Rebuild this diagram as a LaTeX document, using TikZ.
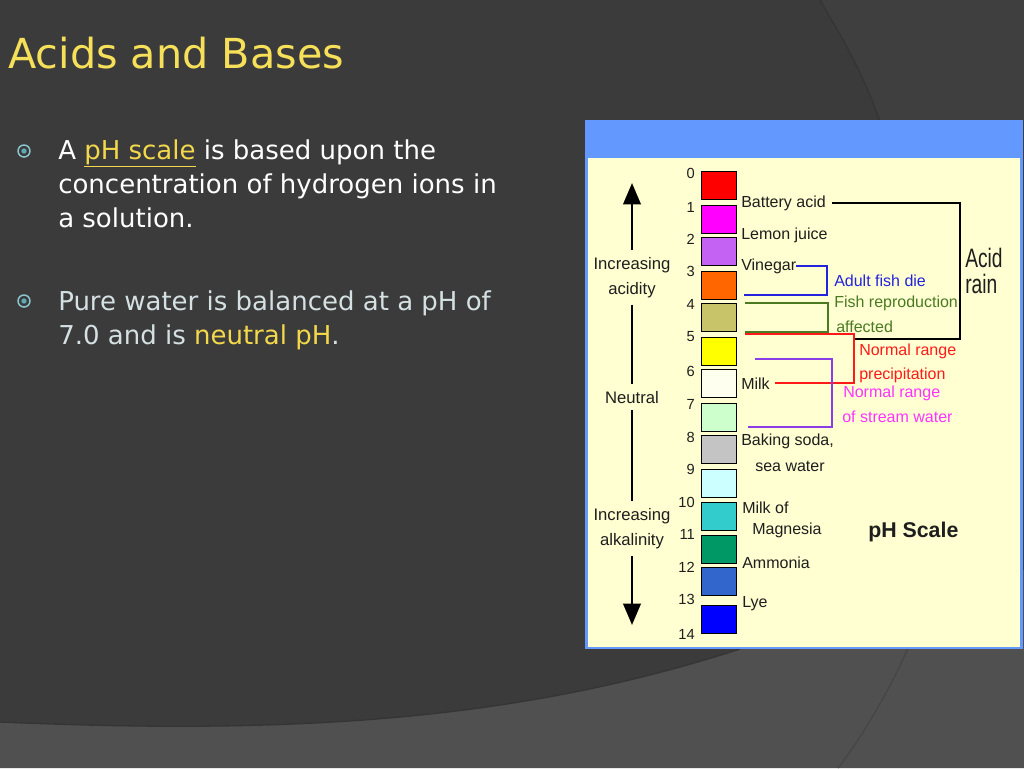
\documentclass[tikz,border=0pt]{standalone}
\usepackage{fontspec}
\usepackage{graphicx}
\setmainfont{DejaVu Sans}
\newfontfamily\chartfont{Liberation Sans}
\newfontfamily\acidfont[FakeStretch=0.72]{Liberation Sans}
\usetikzlibrary{arrows.meta}
\definecolor{slidebg}{HTML}{3B3B3B}
\definecolor{slidetop}{HTML}{3F3F3F}
\definecolor{slidebot}{HTML}{505050}
\definecolor{slideedge}{HTML}{353535}
\definecolor{titleyellow}{HTML}{F6E05A}
\definecolor{keyyellow}{HTML}{F3D84B}
\definecolor{itemgray}{HTML}{D5E0E3}
\definecolor{ringblue}{HTML}{8CC6CF}
\definecolor{dotblue}{HTML}{5FA8B4}
\definecolor{hdrblue}{HTML}{6399FF}
\definecolor{cream}{HTML}{FFFFD2}
\definecolor{ph0}{HTML}{FF0000}
\definecolor{ph1}{HTML}{FF00FF}
\definecolor{ph2}{HTML}{C462F4}
\definecolor{ph3}{HTML}{FF6600}
\definecolor{ph4}{HTML}{C8C46A}
\definecolor{ph5}{HTML}{FFFF00}
\definecolor{ph6}{HTML}{FFFFF0}
\definecolor{ph7}{HTML}{CCFFCC}
\definecolor{ph8}{HTML}{C4C4C4}
\definecolor{ph9}{HTML}{CCFFFF}
\definecolor{ph10}{HTML}{33CCCC}
\definecolor{ph11}{HTML}{009966}
\definecolor{ph12}{HTML}{3366CC}
\definecolor{ph13}{HTML}{0000FF}
\definecolor{fishblue}{HTML}{2323DD}
\definecolor{fishgreen}{HTML}{4A7A22}
\definecolor{rainred}{HTML}{FF1A1A}
\definecolor{streampink}{HTML}{FF33FF}
\definecolor{streamviolet}{HTML}{8A3DE6}
\definecolor{inkgray}{HTML}{1E1E1E}
\tikzset{
	swatch/.style = {draw = black, line width = 1.1pt, minimum width = 26.25pt, minimum height = 21pt, inner sep = 0pt, anchor = north west},
	phnum/.style = {anchor = east, inner sep = 0pt, text = inkgray, font = \chartfont\fontsize{11}{13}\selectfont},
	item/.style = {anchor = base west, inner sep = 0pt, text = inkgray, font = \chartfont\fontsize{12}{14}\selectfont},
	side/.style = {anchor = north, inner sep = 5pt, align = center, text = inkgray, font = \chartfont\fontsize{12.5}{19}\selectfont},
	bracket/.style = {line width = 1.1pt},
	shaft/.style = {line width = 2pt},
	pharrow/.style = {line width = 2pt, -{Triangle[width = 13pt, length = 16pt]}},
	bullettext/.style = {anchor = base west, inner sep = 0pt, font = \fontsize{19.5}{25}\selectfont},
	bulletmark/.style = {circle, draw = ringblue, line width = 1.1pt, minimum size = 9pt, inner sep = 0pt, path picture = {\fill [dotblue] (path picture bounding box.center) circle (2pt);}}
}
\begin{document}
\begin{tikzpicture}[x = 0.75pt, y = -0.75pt]
	\useasboundingbox (0, 0) rectangle (1024, 768);
	\fill [slidebg] (0, 0) rectangle (1024, 768);
	\fill [slidetop] (820, 0) .. controls (840, 35) and (870, 80) .. (892, 160) -- (1024, 160) -- (1024, 0) -- cycle;
	\draw [slideedge, line width = 1pt] (820, 0) .. controls (840, 35) and (870, 80) .. (892, 160);
	\fill [slidebot] (0, 722) .. controls (300, 735) and (520, 720) .. (740, 649) .. controls (840, 615) and (950, 590) .. (1024, 570) -- (1024, 768) -- (0, 768) -- cycle;
	\draw [slideedge, line width = 1pt] (0, 722) .. controls (300, 735) and (520, 720) .. (740, 649);
	\draw [slidebot!88!black, line width = 1pt] (908, 648) .. controls (890, 690) and (860, 740) .. (838, 768);

	\node [anchor = base west, inner sep = 0pt, text = titleyellow, font = \fontsize{31}{36}\selectfont] (title) at (8, 68) {Acids and Bases};

	\node [bulletmark] (m1) at (24, 151) {};
	\node [bullettext, text = white] (b1a) at (58, 159) {A {\color{keyyellow}\underline{pH scale}} is based upon the};
	\node [bullettext, text = white] (b1b) at (58, 193) {concentration of hydrogen ions in};
	\node [bullettext, text = white] (b1c) at (58, 227) {a solution.};
	\node [bulletmark] (m2) at (24, 301) {};
	\node [bullettext, text = itemgray] (b2a) at (58, 310) {Pure water is balanced at a pH of};
	\node [bullettext, text = itemgray] (b2b) at (58, 344) {7.0 and is {\color{keyyellow}neutral pH}.};

	\fill [hdrblue] (585, 120) rectangle (1023, 649);
	\fill [cream] (588, 158) rectangle (1020, 647);

	\node [swatch, fill = ph0] (s0) at (701, 171) {};
	\node [swatch, fill = ph1] (s1) at (701, 205) {};
	\node [swatch, fill = ph2] (s2) at (701, 237) {};
	\node [swatch, fill = ph3] (s3) at (701, 271) {};
	\node [swatch, fill = ph4] (s4) at (701, 303) {};
	\node [swatch, fill = ph5] (s5) at (701, 337) {};
	\node [swatch, fill = ph6] (s6) at (701, 369) {};
	\node [swatch, fill = ph7] (s7) at (701, 403) {};
	\node [swatch, fill = ph8] (s8) at (701, 435) {};
	\node [swatch, fill = ph9] (s9) at (701, 469) {};
	\node [swatch, fill = ph10] (s10) at (701, 502) {};
	\node [swatch, fill = ph11] (s11) at (701, 535) {};
	\node [swatch, fill = ph12] (s12) at (701, 567) {};
	\node [swatch, fill = ph13] (s13) at (701, 605) {};

	\node [phnum] (n0) at (695, 173) {0};
	\node [phnum] (n1) at (695, 207) {1};
	\node [phnum] (n2) at (695, 239) {2};
	\node [phnum] (n3) at (695, 271) {3};
	\node [phnum] (n4) at (695, 304) {4};
	\node [phnum] (n5) at (695, 337) {5};
	\node [phnum] (n6) at (695, 371) {6};
	\node [phnum] (n7) at (695, 404) {7};
	\node [phnum] (n8) at (695, 437) {8};
	\node [phnum] (n9) at (695, 469) {9};
	\node [phnum] (n10) at (695, 502) {10};
	\node [phnum] (n11) at (695, 534) {11};
	\node [phnum] (n12) at (695, 567) {12};
	\node [phnum] (n13) at (695, 599) {13};
	\node [phnum] (n14) at (695, 634) {14};

	\node [item] (battery) at (741, 207) {Battery acid};
	\node [item] (lemon) at (741, 239) {Lemon juice};
	\node [item] (vinegar) at (741, 270) {Vinegar};
	\node [item] (milk) at (741, 389) {Milk};
	\node [item] (soda) at (741, 445) {Baking soda,};
	\node [item] (sea) at (755, 471) {sea water};
	\node [item] (magA) at (742, 513) {Milk of};
	\node [item] (magB) at (752, 534) {Magnesia};
	\node [item] (ammonia) at (742, 568) {Ammonia};
	\node [item] (lye) at (742, 607) {Lye};

	\node [item, text = fishblue] (fishdie) at (834, 286) {Adult fish die};
	\node [item, text = fishgreen] (reproA) at (834, 307) {Fish reproduction};
	\node [item, text = fishgreen] (reproB) at (836, 332) {affected};
	\node [item, text = rainred] (precA) at (859, 355) {Normal range};
	\node [item, text = rainred] (precB) at (859, 379) {precipitation};
	\node [item, text = streampink] (streamA) at (843, 397) {Normal range};
	\node [item, text = streampink] (streamB) at (842, 422) {of stream water};
	\node [anchor = base west, inner sep = 0pt, text = inkgray, font = \acidfont\fontsize{20}{24}\selectfont] (acid) at (965, 267) {Acid};
	\node [anchor = base west, inner sep = 0pt, text = inkgray, font = \acidfont\fontsize{20}{24}\selectfont] (rain) at (965, 293) {rain};
	\node [anchor = base west, inner sep = 0pt, text = inkgray, font = \chartfont\bfseries\fontsize{16}{19}\selectfont] (scale) at (868, 537) {pH Scale};

	\coordinate (rainend) at (854, 339);
	\coordinate (fishend) at (744, 295);
	\coordinate (reproin) at (745, 303);
	\coordinate (reproout) at (745, 332);
	\coordinate (precend) at (745, 334);
	\coordinate (streamin) at (755, 359);
	\coordinate (streamout) at (748, 427);
	\draw [bracket] ([xshift = 4.5pt] battery.east) -| (960, 339) -- (rainend);
	\draw [bracket, fishblue] (vinegar.east) -| (827, 295) -- (fishend);
	\draw [bracket, fishgreen] (reproin) -| (828, 332) -- (reproout);
	\draw [bracket, rainred] ([xshift = 4pt] milk.east) -| (854, 334) -- (precend);
	\draw [bracket, streamviolet] (streamin) -| (832, 427) -- (streamout);

	\node [side] (acidity) at (632, 250) {Increasing\\acidity};
	\node [side] (neutral) at (632, 384) {Neutral};
	\node [side] (alkalinity) at (632, 501) {Increasing\\alkalinity};
	\coordinate (acidtip) at (632, 183);
	\coordinate (alktip) at (632, 625);
	\draw [pharrow] (acidity.north) -- (acidtip);
	\draw [shaft] (acidity.south) -- (neutral.north);
	\draw [shaft] (neutral.south) -- (alkalinity.north);
	\draw [pharrow] (alkalinity.south) -- (alktip);
\end{tikzpicture}
\end{document}
